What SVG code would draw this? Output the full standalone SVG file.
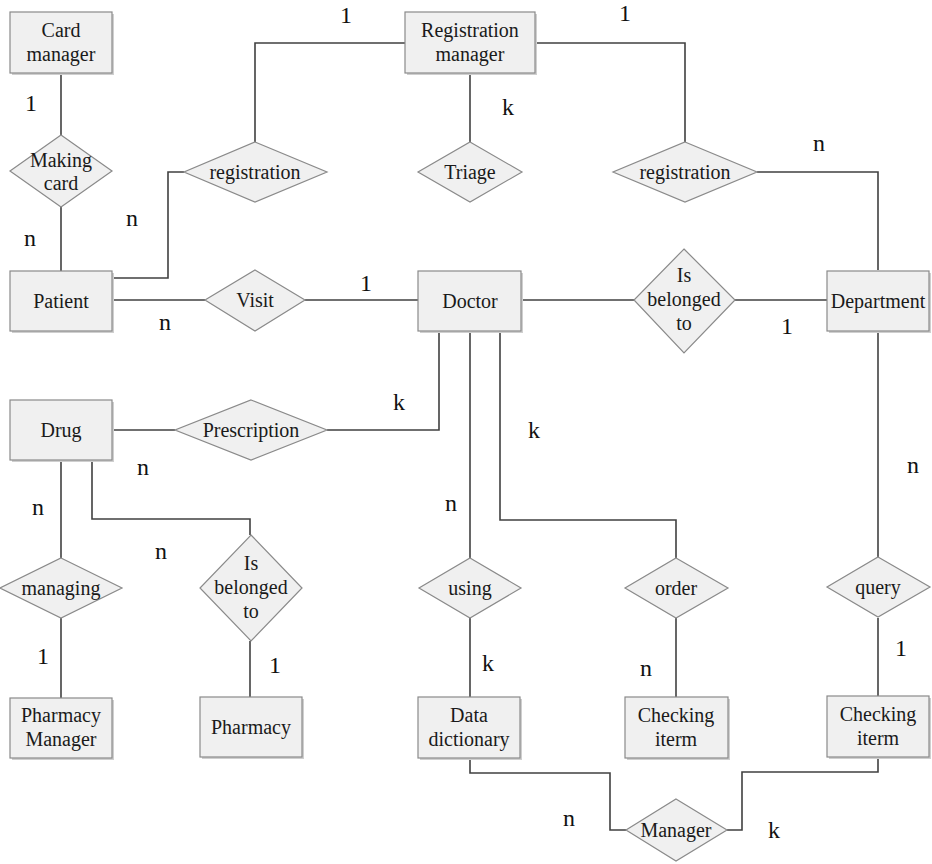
<svg xmlns="http://www.w3.org/2000/svg" width="932" height="864" viewBox="0 0 932 864">
<rect width="932" height="864" fill="#ffffff"/>
<g id="connectors" fill="none" stroke="#404040" stroke-width="1.6">
<path d="M61,73 V135"/>
<path d="M61,207 V271"/>
<path d="M255,142 V43 H405"/>
<path d="M535,43 H685 V142"/>
<path d="M470,73 V142"/>
<path d="M757,172 H878 V270"/>
<path d="M184,172 H168 V278 H112"/>
<path d="M112,300 H205"/>
<path d="M305,300 H418"/>
<path d="M521,300 H634"/>
<path d="M735,300 H827"/>
<path d="M112,430 H175"/>
<path d="M327,430 H439 V331"/>
<path d="M470,331 V558"/>
<path d="M500,331 V520 H676 V558"/>
<path d="M878,331 V558"/>
<path d="M878,618 V697"/>
<path d="M676,618 V697"/>
<path d="M470,618 V697"/>
<path d="M470,758 V773 H610 V830 H626"/>
<path d="M727,830 H742 V772 H878 V758"/>
<path d="M61,460 V558"/>
<path d="M61,618 V698"/>
<path d="M92,460 V519 H250 V535"/>
<path d="M250,641 V697"/>
</g>
<g id="labels" fill="#111" text-anchor="middle" font-family="Liberation Serif" font-size="24">
<text x="31" y="111">1</text>
<text x="30" y="246">n</text>
<text x="132" y="226">n</text>
<text x="346" y="23">1</text>
<text x="625" y="21">1</text>
<text x="508" y="115">k</text>
<text x="819" y="151">n</text>
<text x="165" y="330">n</text>
<text x="366" y="291">1</text>
<text x="787" y="334">1</text>
<text x="399" y="410">k</text>
<text x="534" y="438">k</text>
<text x="451" y="511">n</text>
<text x="913" y="473">n</text>
<text x="143" y="475">n</text>
<text x="38" y="515">n</text>
<text x="161" y="559">n</text>
<text x="43" y="664">1</text>
<text x="275" y="673">1</text>
<text x="488" y="671">k</text>
<text x="646" y="676">n</text>
<text x="901" y="656">1</text>
<text x="569" y="826">n</text>
<text x="774" y="838">k</text>
</g>
<g id="shadows" fill="#cfcfcf">
<rect x="12" y="14" width="102" height="61"/>
<rect x="407" y="14" width="130" height="61"/>
<rect x="12" y="273" width="102" height="60"/>
<rect x="420" y="273" width="103" height="60"/>
<rect x="829" y="273" width="102" height="60"/>
<rect x="12" y="402" width="102" height="60"/>
<rect x="12" y="700" width="102" height="60"/>
<rect x="202" y="699" width="102" height="60"/>
<rect x="420" y="699" width="102" height="61"/>
<rect x="627" y="699" width="103" height="61"/>
<rect x="829" y="698" width="102" height="61"/>
</g>
<g id="nodes" text-anchor="middle" font-family="Liberation Serif" font-size="20">
<g id="card-manager"><rect fill="#f0f0f0" stroke="#8a8a8a" stroke-width="1.2" x="10" y="12" width="102" height="61"/><text fill="#1a1a1a" x="61" y="37">Card</text><text fill="#1a1a1a" x="61" y="61">manager</text></g>
<g id="registration-manager"><rect fill="#f0f0f0" stroke="#8a8a8a" stroke-width="1.2" x="405" y="12" width="130" height="61"/><text fill="#1a1a1a" x="470" y="37">Registration</text><text fill="#1a1a1a" x="470" y="61">manager</text></g>
<g id="making-card"><polygon fill="#f0f0f0" stroke="#8a8a8a" stroke-width="1.2" points="61,135 112,171 61,207 10,171"/><text fill="#1a1a1a" x="61" y="167">Making</text><text fill="#1a1a1a" x="61" y="190">card</text></g>
<g id="registration-1"><polygon fill="#f0f0f0" stroke="#8a8a8a" stroke-width="1.2" points="255,142 327,172 255,202 184,172"/><text fill="#1a1a1a" x="255" y="179">registration</text></g>
<g id="triage"><polygon fill="#f0f0f0" stroke="#8a8a8a" stroke-width="1.2" points="470,142 522,172 470,202 418,172"/><text fill="#1a1a1a" x="470" y="179">Triage</text></g>
<g id="registration-2"><polygon fill="#f0f0f0" stroke="#8a8a8a" stroke-width="1.2" points="685,142 757,172 685,202 613,172"/><text fill="#1a1a1a" x="685" y="179">registration</text></g>
<g id="patient"><rect fill="#f0f0f0" stroke="#8a8a8a" stroke-width="1.2" x="10" y="271" width="102" height="60"/><text fill="#1a1a1a" x="61" y="308">Patient</text></g>
<g id="visit"><polygon fill="#f0f0f0" stroke="#8a8a8a" stroke-width="1.2" points="255,270 305,300 255,331 205,300"/><text fill="#1a1a1a" x="255" y="307">Visit</text></g>
<g id="doctor"><rect fill="#f0f0f0" stroke="#8a8a8a" stroke-width="1.2" x="418" y="271" width="103" height="60"/><text fill="#1a1a1a" x="470" y="308">Doctor</text></g>
<g id="is-belonged-to-1"><polygon fill="#f0f0f0" stroke="#8a8a8a" stroke-width="1.2" points="684,249 735,300 684,353 634,300"/><text fill="#1a1a1a" x="684" y="282">Is</text><text fill="#1a1a1a" x="684" y="306">belonged</text><text fill="#1a1a1a" x="684" y="330">to</text></g>
<g id="department"><rect fill="#f0f0f0" stroke="#8a8a8a" stroke-width="1.2" x="827" y="271" width="102" height="60"/><text fill="#1a1a1a" x="878" y="308">Department</text></g>
<g id="drug"><rect fill="#f0f0f0" stroke="#8a8a8a" stroke-width="1.2" x="10" y="400" width="102" height="60"/><text fill="#1a1a1a" x="61" y="437">Drug</text></g>
<g id="prescription"><polygon fill="#f0f0f0" stroke="#8a8a8a" stroke-width="1.2" points="251,400 327,430 251,460 175,430"/><text fill="#1a1a1a" x="251" y="437">Prescription</text></g>
<g id="managing"><polygon fill="#f0f0f0" stroke="#8a8a8a" stroke-width="1.2" points="61,558 122,588 61,618 0,588"/><text fill="#1a1a1a" x="61" y="595">managing</text></g>
<g id="is-belonged-to-2"><polygon fill="#f0f0f0" stroke="#8a8a8a" stroke-width="1.2" points="251,535 302,588 251,641 200,588"/><text fill="#1a1a1a" x="251" y="570">Is</text><text fill="#1a1a1a" x="251" y="594">belonged</text><text fill="#1a1a1a" x="251" y="618">to</text></g>
<g id="using"><polygon fill="#f0f0f0" stroke="#8a8a8a" stroke-width="1.2" points="470,558 521,588 470,618 419,588"/><text fill="#1a1a1a" x="470" y="595">using</text></g>
<g id="order"><polygon fill="#f0f0f0" stroke="#8a8a8a" stroke-width="1.2" points="676,558 728,588 676,618 625,588"/><text fill="#1a1a1a" x="676" y="595">order</text></g>
<g id="query"><polygon fill="#f0f0f0" stroke="#8a8a8a" stroke-width="1.2" points="878,557 930,587 878,617 827,587"/><text fill="#1a1a1a" x="878" y="594">query</text></g>
<g id="pharmacy-manager"><rect fill="#f0f0f0" stroke="#8a8a8a" stroke-width="1.2" x="10" y="698" width="102" height="60"/><text fill="#1a1a1a" x="61" y="722">Pharmacy</text><text fill="#1a1a1a" x="61" y="746">Manager</text></g>
<g id="pharmacy"><rect fill="#f0f0f0" stroke="#8a8a8a" stroke-width="1.2" x="200" y="697" width="102" height="60"/><text fill="#1a1a1a" x="251" y="734">Pharmacy</text></g>
<g id="data-dictionary"><rect fill="#f0f0f0" stroke="#8a8a8a" stroke-width="1.2" x="418" y="697" width="102" height="61"/><text fill="#1a1a1a" x="469" y="722">Data</text><text fill="#1a1a1a" x="469" y="746">dictionary</text></g>
<g id="checking-iterm-1"><rect fill="#f0f0f0" stroke="#8a8a8a" stroke-width="1.2" x="625" y="697" width="103" height="61"/><text fill="#1a1a1a" x="676" y="722">Checking</text><text fill="#1a1a1a" x="676" y="746">iterm</text></g>
<g id="checking-iterm-2"><rect fill="#f0f0f0" stroke="#8a8a8a" stroke-width="1.2" x="827" y="696" width="102" height="61"/><text fill="#1a1a1a" x="878" y="721">Checking</text><text fill="#1a1a1a" x="878" y="745">iterm</text></g>
<g id="manager"><polygon fill="#f0f0f0" stroke="#8a8a8a" stroke-width="1.2" points="676,799 727,830 676,861 626,830"/><text fill="#1a1a1a" x="676" y="837">Manager</text></g>
</g>
</svg>
